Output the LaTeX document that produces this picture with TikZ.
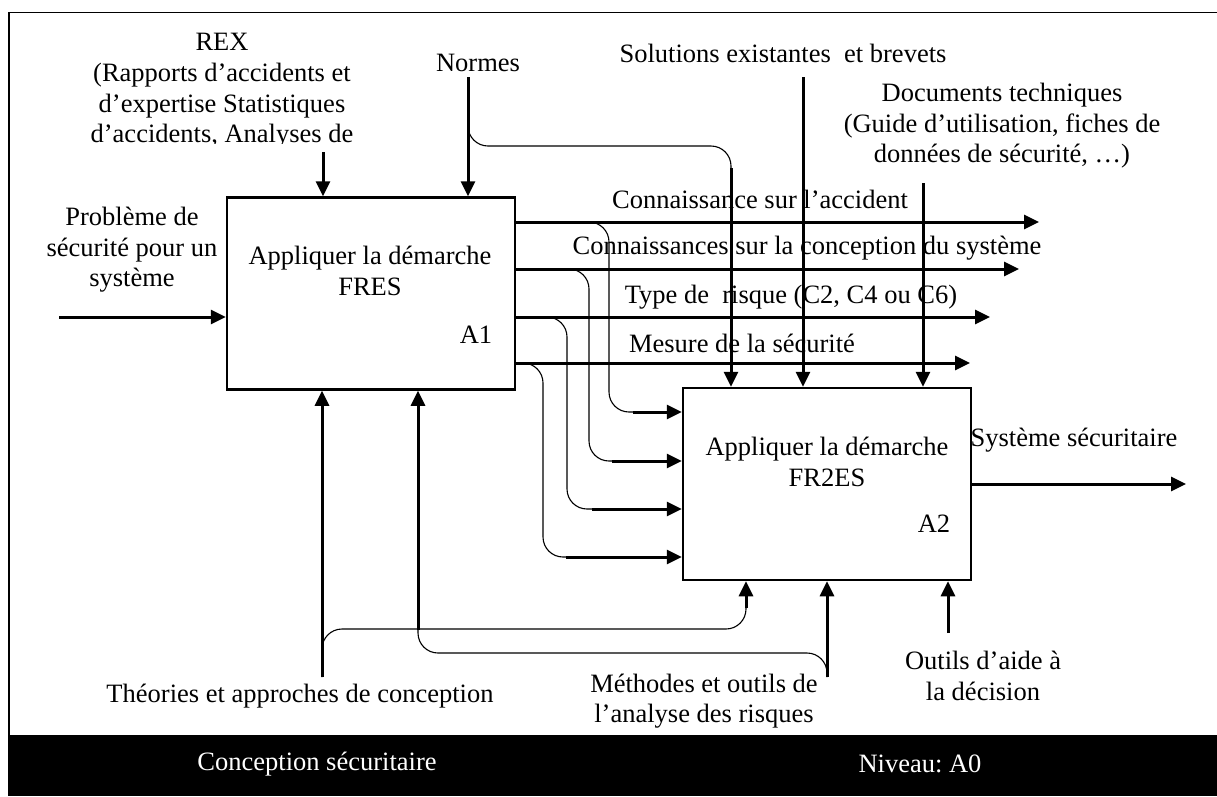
\documentclass[tikz,border=0pt]{standalone}
\usepackage{fontspec}
\setmainfont{Liberation Serif}
\usetikzlibrary{arrows.meta}
\frenchspacing
\begin{document}
\begin{tikzpicture}[x=1pt,y=-1pt,
  every node/.style={font=\fontsize{26.5pt}{30.6pt}\selectfont, inner sep=0pt, align=center},
  fnbox/.style={draw, line width=2.5pt, minimum width=288pt, minimum height=192pt},
  thk/.style={line width=3pt, -{Triangle[length=15pt,width=14pt]}},
  thn/.style={line width=1.1pt, rounded corners=20pt},
  band/.style={text=white}
]
\useasboundingbox (0,0) rectangle (1217,796);

% frame and title band
\draw[line width=1.6pt] (9,735) -- (9,12.5) -- (1217,12.5);
\fill[black] (8,735) rectangle (1217,796);
\node[band] (title) at (317,764) {Conception sécuritaire};
\node[band] (level) at (920,764) {Niveau: A0};

% activity boxes
\node[fnbox] (A1) at (371,293.5) {};
\node[fnbox] (A2) at (827,484) {};
\node (t1) at (370,271) {Appliquer la démarche\\FRES};
\node (n1) at (476,335) {A1};
\node (t2) at (827,462) {Appliquer la démarche\\FR2ES};
\node (n2) at (934,524) {A2};

% labels
\begin{scope}
\clip (60,14) rectangle (400,143.5);
\node (rex) at (222,91) {REX\\(Rapports d’accidents et\\d’expertise Statistiques\\d’accidents, Analyses de};
\end{scope}
\node (normes) at (478,63) {Normes};
\node (sol) at (783,53) {Solutions existantes~ et brevets};
\node (docs) at (1002,126) {Documents techniques\\(Guide d’utilisation, fiches de\\données de sécurité, …)};
\node (prob) at (132,250) {Problème de\\sécurité pour un\\système};
\node (l1) at (760,199) {Connaissance sur l’accident};
\node (l2) at (807,248) {Connaissances sur la conception du système};
\node (l3) at (791,297) {Type de~ risque (C2, C4 ou C6)};
\node (l4) at (742,343) {Mesure de la sécurité};
\node (sys) at (1074,440) {Système sécuritaire};
\node (theol) at (300,696) {Théories et approches de conception};
\node (methl) at (704,701) {Méthodes et outils de\\l’analyse des risques};
\node (outl) at (983,676) {Outils d’aide à\\la décision};

% coordinates
\coordinate (rexs) at (323,152);
\coordinate (norms) at (468,77);
\coordinate (nb) at (468,110);
\coordinate (nbc) at (731,146);
\coordinate (nbe) at (731,174);
\coordinate (nbt) at (731,168);
\coordinate (sols) at (803,77);
\coordinate (docs0) at (923,183);
\coordinate (inp) at (59,317);
\coordinate (o1) at (1039,222);
\coordinate (o2) at (1019,269);
\coordinate (o3) at (990,317);
\coordinate (o4) at (970,363);
\coordinate (v1) at (609,412); \coordinate (i1) at (633,412);
\coordinate (v2) at (589,461); \coordinate (i2) at (612,461);
\coordinate (v3) at (567,509); \coordinate (i3) at (592,509);
\coordinate (v4) at (543,557); \coordinate (i4) at (566,557);
\coordinate (syse) at (1186,484);
\coordinate (theo) at (322,677);
\coordinate (theoc) at (746,629);
\coordinate (theoe) at (746,604);
\coordinate (theot) at (746,608);
\coordinate (meth) at (827,677);
\coordinate (methc) at (418,653);
\coordinate (methe) at (418,626);
\coordinate (metht) at (418,630);
\coordinate (outs) at (948,633);

% controls
\draw[thk] (rexs) -- (rexs |- A1.north);
\draw[thk] (norms) -- (norms |- A1.north);
\draw[thn] (nb) |- (nbc) -- (nbe);
\draw[thk] (nbt) -- (nbt |- A2.north);
\draw[thk] (sols) -- (sols |- A2.north);
\draw[thk] (docs0) -- (docs0 |- A2.north);

% input
\draw[thk] (inp) -- (inp -| A1.west);

% outputs of A1
\draw[thk] (A1.east |- o1) -- (o1);
\draw[thk] (A1.east |- o2) -- (o2);
\draw[thk] (A1.east |- o3) -- (o3);
\draw[thk] (A1.east |- o4) -- (o4);

% feeds into A2
\draw[thn] (A1.east |- o1) -| (v1) -- (i1);
\draw[thn] (A1.east |- o2) -| (v2) -- (i2);
\draw[thn] (A1.east |- o3) -| (v3) -- (i3);
\draw[thn] (A1.east |- o4) -| (v4) -- (i4);
\draw[thk] (i1) -- (i1 -| A2.west);
\draw[thk] (i2) -- (i2 -| A2.west);
\draw[thk] (i3) -- (i3 -| A2.west);
\draw[thk] (i4) -- (i4 -| A2.west);

% output of A2
\draw[thk] (A2.east |- syse) -- (syse);

% mechanisms
\draw[thk] (theo) -- (theo |- A1.south);
\draw[thn] (theo) |- (theoc) -- (theoe);
\draw[thk] (theot) -- (theot |- A2.south);
\draw[thk] (meth) -- (meth |- A2.south);
\draw[thn] (meth) |- (methc) -- (methe);
\draw[thk] (metht) -- (metht |- A1.south);
\draw[thk] (outs) -- (outs |- A2.south);
\end{tikzpicture}
\end{document}
